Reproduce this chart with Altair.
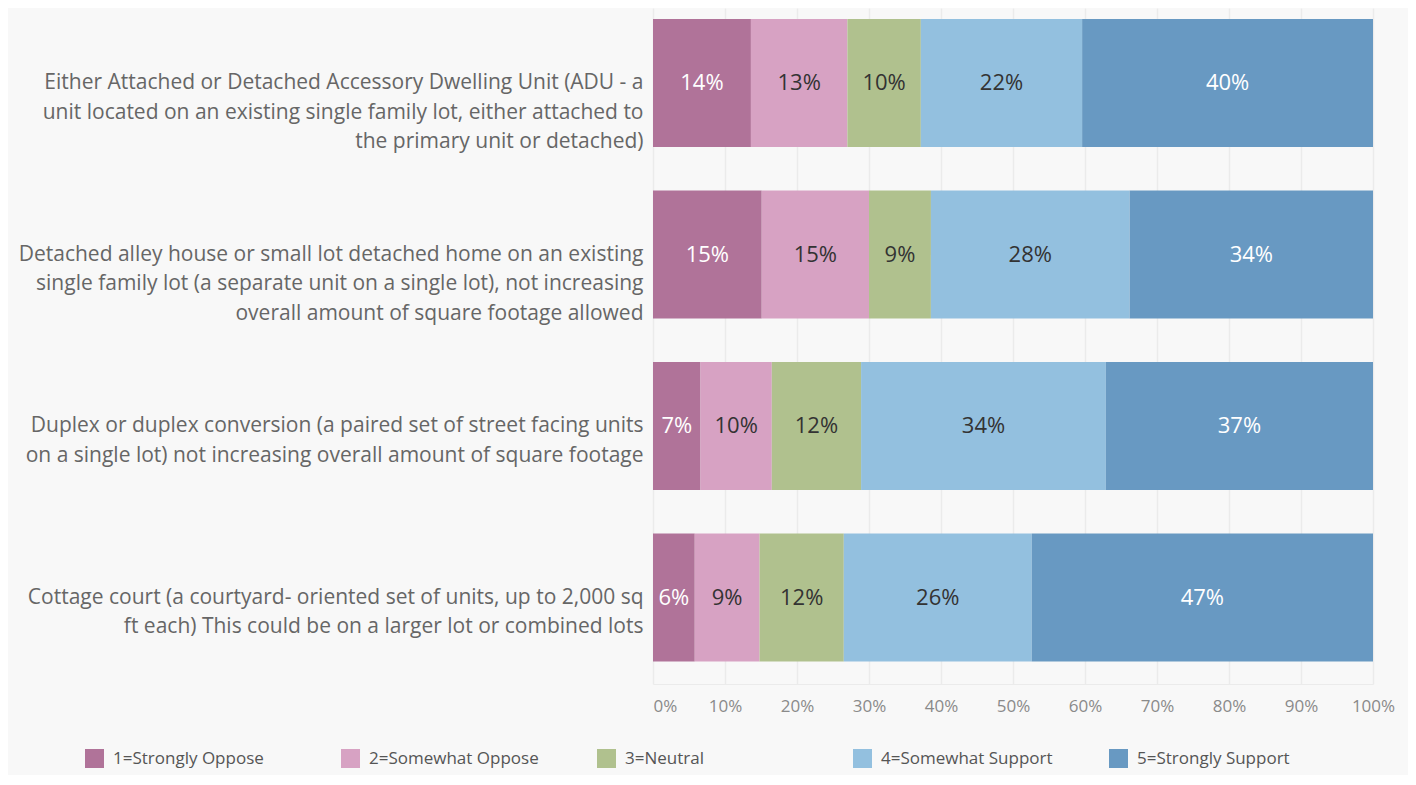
import altair as alt
import pandas as pd

items = [
    "Either Attached or Detached Accessory Dwelling Unit (ADU - a\nunit located on an existing single family lot, either attached to\nthe primary unit or detached)",
    "Detached alley house or small lot detached home on an existing\nsingle family lot (a separate unit on a single lot), not increasing\noverall amount of square footage allowed",
    "Duplex or duplex conversion (a paired set of street facing units\non a single lot) not increasing overall amount of square footage",
    "Cottage court (a courtyard- oriented set of units, up to 2,000 sq\nft  each)  This could be on a larger lot or combined lots",
]
levels = ["1=Strongly Oppose", "2=Somewhat Oppose", "3=Neutral", "4=Somewhat Support", "5=Strongly Support"]
colors = ["#b07399", "#d7a2c3", "#b0c18e", "#93c0df", "#6899c2"]

strongly_oppose = [13.6, 15.1, 6.6, 5.8]
somewhat_oppose = [13.4, 14.9, 9.9, 9.0]
neutral = [10.2, 8.6, 12.4, 11.7]
somewhat_support = [22.4, 27.6, 34.0, 26.1]
strongly_support = [40.4, 33.8, 37.1, 47.4]

series = [strongly_oppose, somewhat_oppose, neutral, somewhat_support, strongly_support]
rows = []
for li, (lvl, vals) in enumerate(zip(levels, series)):
    for it, v in zip(items, vals):
        rows.append({"item": it, "level": lvl, "order": li, "value": v})
df = pd.DataFrame(rows)

FONT = "Open Sans"

base = alt.Chart(df).transform_stack(
    stack="value", groupby=["item"], as_=["x0", "x1"], sort=[alt.SortField("order")]
).transform_calculate(
    mid="(datum.x0 + datum.x1) / 2",
    lab="format(datum.value, '.0f') + '%'",
)

yenc = alt.Y(
    "item:N",
    sort=items,
    title=None,
    scale=alt.Scale(paddingInner=0.2536, paddingOuter=0.0977, align=0.33),
    axis=alt.Axis(
        labelExpr="split(datum.label, '\\n')",
        labelFontSize=21,
        labelFont=FONT,
        labelColor="#666666",
        labelLineHeight=29.5,
        labelPadding=10,
        labelLimit=0,
        ticks=False,
        domain=False,
    ),
)

bars = base.mark_bar().encode(
    x=alt.X(
        "x0:Q",
        scale=alt.Scale(domain=[0, 100], nice=False),
        title=None,
        axis=alt.Axis(
            values=[0, 10, 20, 30, 40, 50, 60, 70, 80, 90, 100],
            labelExpr="datum.value + '%'",
            labelFontSize=17,
            labelFont=FONT,
            labelColor="#8a8a8a",
            labelPadding=14,
            ticks=False,
            domainColor="#ebebeb",
            gridColor="#ebebeb",
            gridWidth=1.5,
            labelAlign={"condition": {"test": "datum.value == 0", "value": "left"}, "value": "center"},
        ),
    ),
    x2="x1:Q",
    y=yenc,
    color=alt.Color(
        "level:N",
        scale=alt.Scale(domain=levels, range=colors),
        legend=alt.Legend(
            title=None,
            orient="none",
            legendX=-568,
            legendY=741,
            direction="horizontal",
            columns=5,
            gridAlign="all",
            symbolType="square",
            symbolSize=361,
            symbolStrokeWidth=0,
            symbolOpacity=1,
            labelFontSize=17,
            labelFont=FONT,
            labelColor="#555555",
            labelOffset=9,
            columnPadding=56,
            labelLimit=0,
        ),
    ),
)

texts = base.mark_text(fontSize=22, font=FONT).encode(
    x="mid:Q",
    y=alt.Y("item:N", sort=items),
    text="lab:N",
    color=alt.condition(
        "datum.order == 0 || datum.order == 4", alt.value("#ffffff"), alt.value("#333333")
    ),
)

chart = (
    alt.layer(bars, texts)
    .properties(width=720, height=676, background="#f8f8f8",
                autosize=alt.AutoSizeParams(type="none"),
                padding={"left": 645, "top": 0, "right": 35, "bottom": 91})
    .configure_view(stroke=None, fill="#f8f8f8")
)

chart.save("out.html", embed_options={"renderer": "svg", "actions": False})
